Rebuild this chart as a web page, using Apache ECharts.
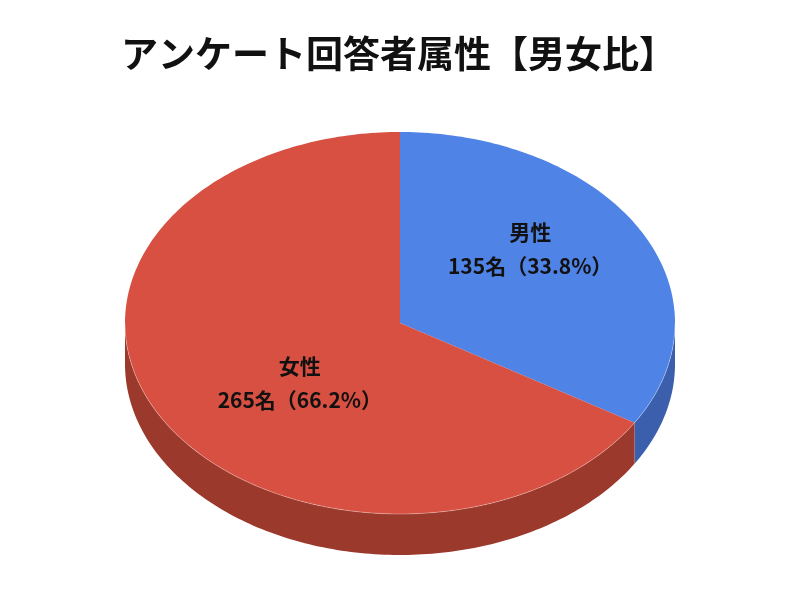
<!DOCTYPE html>
<html>
<head>
<meta charset="utf-8">
<script src="https://cdn.jsdelivr.net/npm/echarts/dist/echarts.min.js"></script>
<style>
  html, body { margin: 0; padding: 0; background: #fff; }
  #main { width: 800px; height: 600px; }
</style>
</head>
<body>
<div id="main"></div>
<script>
// data
const names = ['男性', '女性']
const counts = [135, 265]
const percents = [33.8, 66.2]
const topColors = ['#5083E6', '#D75041']
const sideColors = ['#3B5FAD', '#9C392D']

// ellipse used to fake the 3d pie
const cx = 400, cy = 323, rx = 275, ry = 191, depth = 41
const FONT = '"Noto Sans CJK JP", "Noto Sans", sans-serif'

const total = counts.reduce((a, b) => a + b, 0)

// angle in degrees, clockwise from 12 o'clock
const pt = (deg, dy) => {
    const r = deg * Math.PI / 180
    return [cx + rx * Math.sin(r), cy - ry * Math.cos(r) + (dy || 0)]
}
const arc = (a0, a1, dy) => {
    const pts = []
    const n = Math.max(2, Math.ceil(Math.abs(a1 - a0)))
    for (let i = 0; i <= n; i++) {
        pts.push(pt(a0 + (a1 - a0) * i / n, dy))
    }
    return pts
}

const renderItem = (params, api) => {
    const idx = params.dataIndex
    let before = 0
    for (let i = 0; i < idx; i++) before += counts[i]
    const a0 = before / total * 360
    const a1 = (before + api.value(0)) / total * 360
    const children = []

    // front side wall, only the part facing us (90..270)
    const s0 = Math.max(a0, 90), s1 = Math.min(a1, 270)
    if (s1 > s0) {
        const topEdge = arc(s0, s1, 0)
        const bottomEdge = arc(s1, s0, depth)
        children.push({
            type: 'polygon',
            z2: 1,
            shape: { points: topEdge.concat(bottomEdge) },
            style: { fill: sideColors[idx] }
        })
        children.push({
            type: 'polyline',
            z2: 3,
            shape: { points: topEdge },
            style: { stroke: 'rgba(255,255,255,0.3)', lineWidth: 1, fill: null }
        })
    }

    // top face
    children.push({
        type: 'polygon',
        z2: 2,
        shape: { points: [[cx, cy]].concat(arc(a0, a1, 0)) },
        style: { fill: topColors[idx] }
    })

    // label
    const mid = (a0 + a1) / 2 * Math.PI / 180
    children.push({
        type: 'text',
        z2: 4,
        style: {
            x: 415 + 132 * Math.sin(mid),
            y: 316 - 137 * Math.cos(mid),
            text: names[idx] + '\n' + api.value(0) + '名（' + percents[idx] + '%）',
            align: 'center',
            verticalAlign: 'middle',
            fontSize: 21,
            fontWeight: 'bold',
            fontFamily: FONT,
            lineHeight: 34,
            fill: '#111'
        }
    })
    return { type: 'group', children: children }
}

const chart = echarts.init(document.getElementById('main'))
chart.setOption({
    animation: false,
    title: {
        text: 'アンケート回答者属性【男女比】',
        left: 116,
        top: 30,
        textStyle: {
            fontSize: 37,
            fontWeight: 'bold',
            fontFamily: FONT,
            color: '#111'
        }
    },
    series: [
        {
            type: 'custom',
            coordinateSystem: 'none',
            renderItem: renderItem,
            data: counts
        }
    ]
})
</script>
</body>
</html>
